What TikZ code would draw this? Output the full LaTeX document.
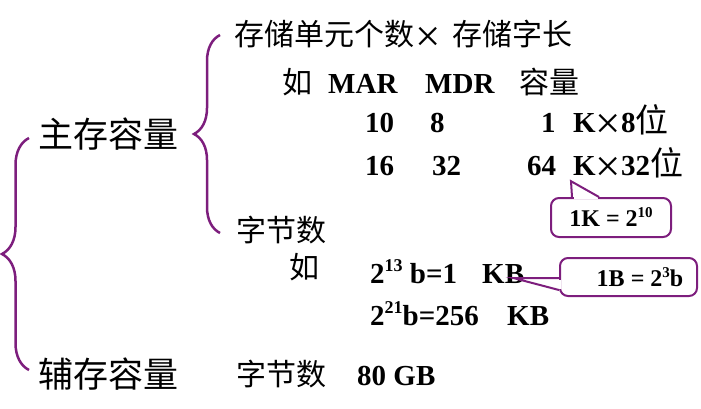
\documentclass[tikz,border=0pt]{standalone}
\usepackage{fontspec}
\setmainfont{Liberation Serif}
\newfontfamily\cjk{Noto Sans CJK SC}
\usetikzlibrary{calc,decorations.pathreplacing}
\definecolor{plum}{RGB}{125,30,125}
\newcommand{\by}{\raisebox{-6pt}{\fontsize{45}{45}\selectfont\mdseries ×}}
\newcommand{\hi}[3]{\raisebox{#1}{\fontsize{#2}{#2}\selectfont #3}}
\newcommand{\wei}{{\cjk\mdseries\fontsize{33}{33}\selectfont 位}}
\begin{document}
\begin{tikzpicture}[x=1pt,y=-1pt,
    zh/.style={anchor=base west,inner sep=0pt,font=\fontsize{30}{32}\selectfont\cjk},
    big/.style={zh,font=\fontsize{35}{38}\selectfont\cjk},
    lat/.style={anchor=base west,inner sep=0pt,font=\fontsize{29}{32}\selectfont\bfseries},
    brc/.style={plum,line width=2.5pt,decorate,decoration={brace,amplitude=#1}},
    note/.style={draw=plum,line width=2pt,rounded corners=8pt,inner sep=0pt,font=\fontsize{24}{26}\selectfont\bfseries},
    tail/.style={plum,line width=2pt}]
    \useasboundingbox (0,0) rectangle (701,408);

    % braces
    \draw[brc=27pt] (29,370) -- (29,138);
    \draw[brc=26pt] (220,233) -- (220,35);

    \node[big] (main) at (38,147) {主存容量};
    \node[big] (aux) at (38,387) {辅存容量};

    % main memory
    \node[zh] (cells) at (234,45) {存储单元个数};
    \node[lat] (mul) at (415,45) {\by};
    \node[zh] (word) at (452,45) {存储字长};

    \node[zh] (eg1) at (282,93) {如};
    \node[lat] (mar) at (328,93) {MAR};
    \node[lat] (mdr) at (425,93) {MDR};
    \node[zh] (cap) at (519,93) {容量};

    \node[lat] (a1) at (365,132) {10};
    \node[lat] (d1) at (430,132) {8};
    \node[lat] (n1) at (541,132) {1};
    \node[lat] (k1) at (573,132) {K\by 8\wei};

    \node[lat] (a2) at (365,175) {16};
    \node[lat] (d2) at (432,175) {32};
    \node[lat] (n2) at (527,175) {64};
    \node[lat] (k2) at (573,175) {K\by 32\wei};

    \node[zh] (bytes) at (236,241) {字节数};
    \node[zh] (eg2) at (289,278) {如};
    \node[lat] (p13) at (370,283) {2\hi{12pt}{18}{13} b=1};
    \node[lat] (kb1) at (482,283) {KB};
    \node[lat] (p21) at (370,325) {2\hi{12pt}{18}{21}b=256};
    \node[lat] (kb2) at (507,325) {KB};

    % secondary memory
    \node[zh] (disk) at (236,385) {字节数};
    \node[lat] (gb) at (357,385) {80 GB};

    % notes
    \node[note,minimum width=120pt,minimum height=39pt] (kilo) at (611,217.5) {1K = 2\hi{9pt}{15}{10}};
    \node[note,minimum width=137pt,minimum height=38pt] (byte) at (628.5,277) {\hspace*{23pt}1B = 2\hi{9pt}{15}{3}b};
    \coordinate (tipK) at ($(k2.south west)+(-2,0)$);
    \coordinate (tipB) at ($(kb1.base east)+(-11,-5)$);
    \fill[white] ($(kilo.north west)+(23.5,-1.6)$) rectangle ($(kilo.north west)+(47.5,1.6)$);
    \draw[tail] ($(kilo.north west)+(22,0)$) -- (tipK) -- ($(kilo.north west)+(49,0)$);
    \fill[white] ($(byte.west)+(-1.6,2.5)$) rectangle ($(byte.west)+(1.6,11.5)$);
    \draw[tail] ($(byte.west)+(0,1)$) -- (tipB) -- ($(byte.west)+(0,13)$);
\end{tikzpicture}
\end{document}
